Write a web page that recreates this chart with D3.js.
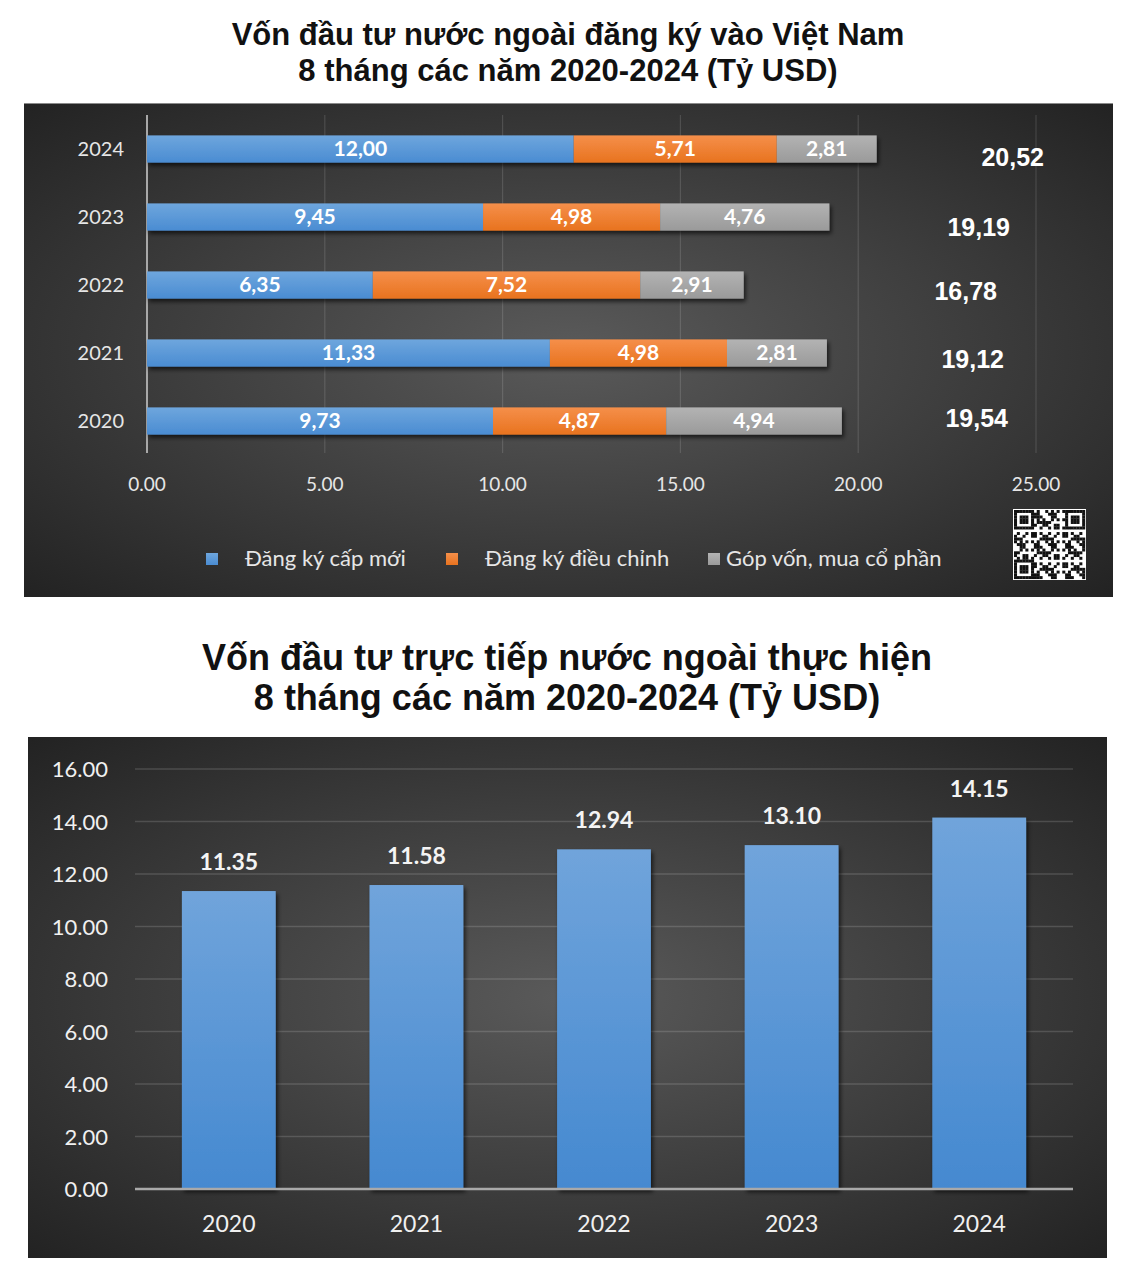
<!DOCTYPE html>
<html><head><meta charset="utf-8">
<script src="https://cdn.jsdelivr.net/npm/d3@7"></script>
<style>
html,body{margin:0;padding:0;background:#fff;}
svg{display:block;}
</style>
</head><body>
<svg id="chart" width="1136" height="1271"></svg>
<script>
// ---------- DATA ----------
const yearsTop = ["2024","2023","2022","2021","2020"];
const seriesNames = ["Đăng ký cấp mới","Đăng ký điều chỉnh","Góp vốn, mua cổ phần"];
const newReg   = [12.00, 9.45, 6.35, 11.33, 9.73];
const adjReg   = [5.71, 4.98, 7.52, 4.98, 4.87];
const capital  = [2.81, 4.76, 2.91, 2.81, 4.94];
const totalsTop = [20.52, 19.19, 16.78, 19.12, 19.54];
const xTicksTop = [0, 5, 10, 15, 20, 25];

const yearsBottom = ["2020","2021","2022","2023","2024"];
const realized = [11.35, 11.58, 12.94, 13.10, 14.15];
const yTicksBottom = [0, 2, 4, 6, 8, 10, 12, 14, 16];

const title1 = ["Vốn đầu tư nước ngoài đăng ký vào Việt Nam", "8 tháng các năm 2020-2024 (Tỷ USD)"];
const title2 = ["Vốn đầu tư trực tiếp nước ngoài thực hiện", "8 tháng các năm 2020-2024 (Tỷ USD)"];

// layout nudges for the free-floating total labels (px, [dx, dy])
const totalNudge = [[30,8],[-4,10],[-17,6],[-10,6],[-6,-3]];

// ---------- SETUP ----------
const svg = d3.select("#chart");
const defs = svg.append("defs");
const FONT = "Lato, 'Open Sans', sans-serif";
const TFONT = "'Liberation Sans', Arial, sans-serif";
const fmtComma = v => v.toFixed(2).replace(".", ",");
const fmtDot = v => v.toFixed(2);

function radial(id){
  const g = defs.append("radialGradient").attr("id", id)
    .attr("cx","50%").attr("cy","50%").attr("r","75%");
  g.append("stop").attr("offset","0%").attr("stop-color","#5a5a5a");
  g.append("stop").attr("offset","100%").attr("stop-color","#1f1f1f");
}
radial("bgTop"); radial("bgBot");
function linear(id, c1, c2){
  const g = defs.append("linearGradient").attr("id", id)
    .attr("x1","0").attr("y1","0").attr("x2","0").attr("y2","1");
  g.append("stop").attr("offset","0%").attr("stop-color", c1);
  g.append("stop").attr("offset","100%").attr("stop-color", c2);
}
linear("gBlue", "#6ea6dd", "#4a8cd2");
linear("gOrange", "#f58f4a", "#e8731f");
linear("gGray", "#b3b3b3", "#9a9a9a");
linear("gBlueCol", "#70a4db", "#4589d0");
const shadow = defs.append("filter").attr("id","shadow")
  .attr("x","-10%").attr("y","-20%").attr("width","130%").attr("height","160%");
shadow.append("feDropShadow").attr("dx",2).attr("dy",3).attr("stdDeviation",2)
  .attr("flood-color","#000").attr("flood-opacity",0.65);

const segFill = ["url(#gBlue)","url(#gOrange)","url(#gGray)"];

// ---------- TITLE 1 ----------
svg.append("g").selectAll("text").data(title1).join("text")
  .attr("x", 568).attr("y", (d,i) => 45 + i*36)
  .attr("text-anchor","middle").attr("font-family",TFONT)
  .attr("font-weight","bold").attr("font-size",31).attr("fill","#111")
  .text(d => d);

// ---------- TOP PANEL ----------
svg.append("rect").attr("x",24).attr("y",103).attr("width",1089).attr("height",494)
  .attr("fill","url(#bgTop)");
svg.append("line").attr("x1",24).attr("x2",1113).attr("y1",103.5).attr("y2",103.5)
  .attr("stroke","#8a8a8a").attr("stroke-width",1);

const xT = d3.scaleLinear().domain([0,25]).range([147,1036]);
const yT = d3.scaleBand().domain(yearsTop).range([115,455]).paddingInner(0.6).paddingOuter(0.3);

const gTop = svg.append("g");
// gridlines
gTop.append("g").selectAll("line").data(xTicksTop.filter(d => d > 0)).join("line")
  .attr("x1", d => xT(d)).attr("x2", d => xT(d)).attr("y1",115).attr("y2",453)
  .attr("stroke","rgba(255,255,255,0.13)").attr("stroke-width",1.2);
// axis line
gTop.append("line").attr("x1",xT(0)).attr("x2",xT(0)).attr("y1",115).attr("y2",453)
  .attr("stroke","#a8a8a8").attr("stroke-width",2);
// x tick labels
gTop.append("g").selectAll("text").data(xTicksTop).join("text")
  .attr("x", d => xT(d)).attr("y", 491).attr("text-anchor","middle")
  .attr("font-family",FONT).attr("font-size",19).attr("fill","#e6e6e6")
  .text(d => d.toFixed(2));
// year labels
gTop.append("g").selectAll("text").data(yearsTop).join("text")
  .attr("x", 124).attr("y", d => yT(d) + yT.bandwidth()/2 + 7).attr("text-anchor","end")
  .attr("font-family",FONT).attr("font-size",20).attr("fill","#e6e6e6")
  .text(d => d);

// stacked bars
const rows = yearsTop.map((y,i) => ({year:y, a:newReg[i], b:adjReg[i], c:capital[i]}));
const stack = d3.stack().keys(["a","b","c"])(rows);
const barG = gTop.append("g").attr("filter","url(#shadow)");
stack.forEach((layer, li) => {
  barG.append("g").selectAll("rect").data(layer).join("rect")
    .attr("x", d => xT(d[0])).attr("width", d => xT(d[1]) - xT(d[0]))
    .attr("y", d => yT(d.data.year)).attr("height", yT.bandwidth())
    .attr("fill", segFill[li]);
});
stack.forEach((layer) => {
  gTop.append("g").selectAll("text").data(layer).join("text")
    .attr("x", d => (xT(d[0]) + xT(d[1]))/2)
    .attr("y", d => yT(d.data.year) + yT.bandwidth()/2 + 7)
    .attr("text-anchor","middle").attr("font-family",FONT).attr("font-weight","bold")
    .attr("font-size",21).attr("fill","#fff")
    .text(d => fmtComma(d[1]-d[0]));
});
// totals
gTop.append("g").selectAll("text").data(totalsTop).join("text")
  .attr("x", (d,i) => xT(23.5) + totalNudge[i][0])
  .attr("y", (d,i) => yT(yearsTop[i]) + yT.bandwidth()/2 + 9 + totalNudge[i][1])
  .attr("text-anchor","middle").attr("font-family",TFONT).attr("font-weight","bold")
  .attr("font-size",25).attr("fill","#fff")
  .text(d => fmtComma(d));

// legend
const legendX = [206, 446, 708];
const lg = gTop.append("g").selectAll("g").data(seriesNames).join("g")
  .attr("transform", (d,i) => `translate(${legendX[i]},559)`);
lg.append("rect").attr("x",0).attr("y",-6).attr("width",12).attr("height",12)
  .attr("fill", (d,i) => segFill[i]);
lg.append("text").attr("x", (d,i) => i === 2 ? 18 : 39).attr("y", 7)
  .attr("font-family",FONT).attr("font-size",22).attr("fill","#e6e6e6")
  .text(d => d);

// QR-like decoration
(function(){
  const qx = 1014, qy = 510, n = 25, s = 71/n;
  const q = gTop.append("g");
  q.append("rect").attr("x",qx-1).attr("y",qy-1).attr("width",73).attr("height",71).attr("fill","#fff");
  const cells = [];
  const inFinder = (i,j) => (i<7&&j<7)||(i<7&&j>=n-7)||(i>=n-7&&j<7);
  for(let i=0;i<n;i++) for(let j=0;j<n;j++){
    let on;
    if(inFinder(i,j)){
      const fi = i>=n-7 ? i-(n-7) : i, fj = j>=n-7 ? j-(n-7) : j;
      const ring = Math.min(fi,fj,6-fi,6-fj);
      on = ring !== 1;
    } else {
      on = ((i*31 + j*17 + i*j*7) % 11) < 5;
    }
    if(on) cells.push([i,j]);
  }
  q.selectAll("rect.c").data(cells).join("rect").attr("class","c")
    .attr("x", d => qx + d[1]*s).attr("y", d => qy + d[0]*s*0.97)
    .attr("width", s+0.2).attr("height", s*0.97+0.2).attr("fill","#111");
})();

// ---------- TITLE 2 ----------
svg.append("g").selectAll("text").data(title2).join("text")
  .attr("x", 567).attr("y", (d,i) => 670 + i*40)
  .attr("text-anchor","middle").attr("font-family",TFONT)
  .attr("font-weight","bold").attr("font-size",36).attr("fill","#111")
  .text(d => d);

// ---------- BOTTOM PANEL ----------
svg.append("rect").attr("x",28).attr("y",737).attr("width",1079).attr("height",521)
  .attr("fill","url(#bgBot)");

const xB = d3.scaleBand().domain(yearsBottom).range([135,1073]).paddingInner(0.5).paddingOuter(0.25);
const yB = d3.scaleLinear().domain([0,16]).range([1189,769]);
const gB = svg.append("g");
gB.append("g").selectAll("line").data(yTicksBottom.filter(d => d > 0)).join("line")
  .attr("x1",135).attr("x2",1073).attr("y1", d => yB(d)).attr("y2", d => yB(d))
  .attr("stroke","rgba(255,255,255,0.15)").attr("stroke-width",1.5);
gB.append("g").selectAll("text").data(yTicksBottom).join("text")
  .attr("x",108).attr("y", d => yB(d) + 8).attr("text-anchor","end")
  .attr("font-family",FONT).attr("font-size",22).attr("fill","#f0f0f0")
  .text(d => d.toFixed(2));
gB.append("g").attr("filter","url(#shadow)").selectAll("rect").data(realized).join("rect")
  .attr("x",(d,i) => xB(yearsBottom[i])).attr("width", xB.bandwidth())
  .attr("y", d => yB(d)).attr("height", d => yB(0) - yB(d))
  .attr("fill","url(#gBlueCol)");
gB.append("line").attr("x1",135).attr("x2",1073).attr("y1",yB(0)).attr("y2",yB(0))
  .attr("stroke","#a9a9a9").attr("stroke-width",2.5);
gB.append("g").selectAll("text").data(realized).join("text")
  .attr("x",(d,i) => xB(yearsBottom[i]) + xB.bandwidth()/2)
  .attr("y", d => yB(d) - 21).attr("text-anchor","middle")
  .attr("font-family",FONT).attr("font-weight","bold").attr("font-size",23).attr("fill","#f4f4f4")
  .text(d => fmtDot(d));
gB.append("g").selectAll("text").data(yearsBottom).join("text")
  .attr("x", d => xB(d) + xB.bandwidth()/2).attr("y",1232).attr("text-anchor","middle")
  .attr("font-family",FONT).attr("font-size",23).attr("fill","#f0f0f0")
  .text(d => d);
</script>
</body></html>
